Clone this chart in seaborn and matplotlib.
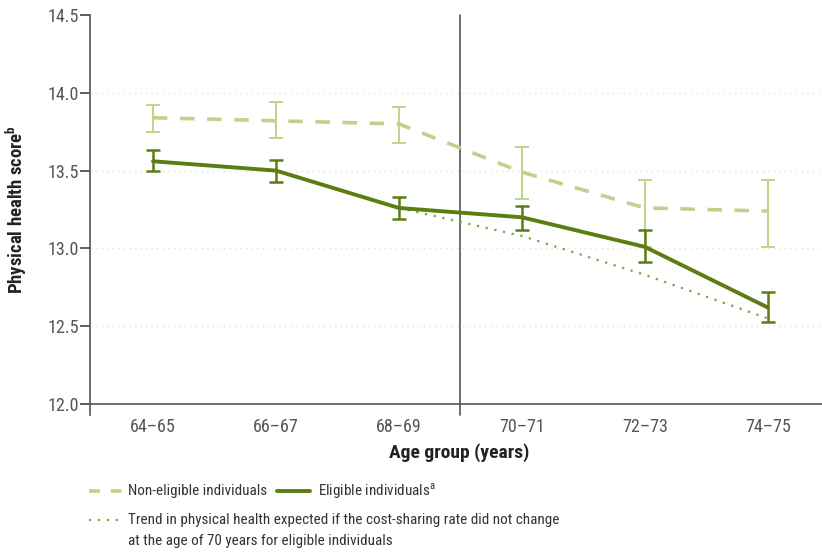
import matplotlib
matplotlib.use('Agg')
import matplotlib.pyplot as plt
from matplotlib import font_manager
from matplotlib.lines import Line2D
import seaborn as sns
import pandas as pd

# data
age_groups = ['64–65', '66–67', '68–69', '70–71', '72–73', '74–75']
non_eligible = [13.84, 13.82, 13.80, 13.49, 13.26, 13.24]
non_eligible_lo = [13.75, 13.71, 13.68, 13.32, 13.01, 13.01]
non_eligible_hi = [13.92, 13.94, 13.91, 13.65, 13.44, 13.44]
eligible = [13.56, 13.50, 13.26, 13.20, 13.01, 12.62]
eligible_lo = [13.50, 13.43, 13.19, 13.12, 12.91, 12.53]
eligible_hi = [13.63, 13.57, 13.33, 13.27, 13.12, 12.72]
trend_groups = ['68–69', '70–71', '72–73', '74–75']
trend = [13.26, 13.08, 12.83, 12.55]
y_ticks = [12.0, 12.5, 13.0, 13.5, 14.0, 14.5]

sns.set_style('white')

# pick a narrow font if one is installed
fonts = font_manager.fontManager.ttflist
fam_names = {f.name for f in fonts}
stretch = 'normal'
scale = 1.0
if 'Liberation Sans Narrow' in fam_names:
    family = 'Liberation Sans Narrow'
elif 'Roboto Condensed' in fam_names:
    family = 'Roboto Condensed'
elif any(f.name == 'DejaVu Sans' and f.stretch == 'condensed' for f in fonts):
    family = 'DejaVu Sans'
    stretch = 'condensed'
    scale = 0.95
else:
    family = 'Roboto'
    scale = 0.9
plt.rcParams['font.family'] = [family, 'DejaVu Sans']
plt.rcParams['font.stretch'] = stretch

LIGHT = '#bed38a'
DARK = '#5b7d12'
DOT = '#86a23a'
GREY = '#555555'

fig = plt.figure(figsize=(8.22, 5.55), dpi=100)
ax = fig.add_axes([0.1095, 0.272, 0.8905, 0.701])

x = list(range(len(age_groups)))
df = pd.DataFrame({'x': x, 'non': non_eligible, 'elig': eligible})
tx = [age_groups.index(g) for g in trend_groups]
df_t = pd.DataFrame({'x': tx, 'trend': trend})

sns.lineplot(data=df, x='x', y='non', ax=ax, color=LIGHT, lw=2.6,
             linestyle=(0, (4, 3.5)), zorder=3)
sns.lineplot(data=df, x='x', y='elig', ax=ax, color=DARK, lw=2.8, zorder=4)
sns.lineplot(data=df_t, x='x', y='trend', ax=ax, color=DOT, lw=1.6,
             linestyle=(0, (1, 3)), zorder=2)

# error bars
lo = [v - l for v, l in zip(non_eligible, non_eligible_lo)]
hi = [h - v for v, h in zip(non_eligible, non_eligible_hi)]
ax.errorbar(x, non_eligible, yerr=[lo, hi], fmt='none', ecolor=LIGHT,
            elinewidth=1.4, capsize=5, capthick=1.4, zorder=3)
lo = [v - l for v, l in zip(eligible, eligible_lo)]
hi = [h - v for v, h in zip(eligible, eligible_hi)]
ax.errorbar(x, eligible, yerr=[lo, hi], fmt='none', ecolor=DARK,
            elinewidth=1.8, capsize=5, capthick=1.8, zorder=4)

ax.set_xlim(-0.512, 5.44)
ax.set_ylim(12.0, 14.5)
ax.set_yticks(y_ticks)
ax.set_yticklabels([f'{v:.1f}' for v in y_ticks])
ax.set_xticks(x)
ax.set_xticklabels(age_groups)
ax.tick_params(axis='y', direction='out', length=7, width=1.2, color='#444444',
               labelsize=13 * scale, labelcolor=GREY, pad=1, left=True)
ax.tick_params(axis='x', length=0, labelsize=13 * scale, labelcolor=GREY, pad=10)

for s in ['top', 'right']:
    ax.spines[s].set_visible(False)
for s in ['left', 'bottom']:
    ax.spines[s].set_color('#555555')
    ax.spines[s].set_linewidth(1.2)
ax.spines['left'].set_bounds(11.93, 14.5)

# faint dotted grid
for v in y_ticks[1:-1]:
    ax.axhline(v, color='#e2e2e2', lw=1, linestyle=(0, (1, 3)), zorder=0)

# vertical separator at the age of 70
ax.plot([2.5, 2.5], [11.93, 14.5], color='#555555', lw=1.2, clip_on=False, zorder=1)

ax.set_xlabel('Age group (years)', fontsize=14 * scale, fontweight='bold', color='#222222')
ax.set_ylabel('Physical health score$^\\mathregular{b}$', fontsize=13.5 * scale,
              fontweight='bold', color='#222222')
ax.xaxis.set_label_coords(0.505, -0.1)
ax.yaxis.set_label_coords(-0.083, 0.5)

# legend built by hand below the axes
def handle(x0, x1, y, **kw):
    fig.add_artist(Line2D([x0 / 822, x1 / 822], [1 - y / 555, 1 - y / 555], **kw))

def label(x0, y, s):
    fig.text(x0 / 822, 1 - y / 555, s, fontsize=10.9 * scale, color='#333333',
             va='center', ha='left')

handle(89, 122, 491, color=LIGHT, lw=2.6, linestyle=(0, (3, 3)))
label(128, 491, 'Non-eligible individuals')
handle(277, 310, 491, color=DARK, lw=2.8)
label(318, 491, 'Eligible individuals$^\\mathregular{a}$')
handle(89, 122, 520, color=DOT, lw=1.6, linestyle=(0, (1, 3)))
label(128, 520, 'Trend in physical health expected if the cost-sharing rate did not change')
label(128, 541, 'at the age of 70 years for eligible individuals')

fig.savefig('out.png', dpi=100)
